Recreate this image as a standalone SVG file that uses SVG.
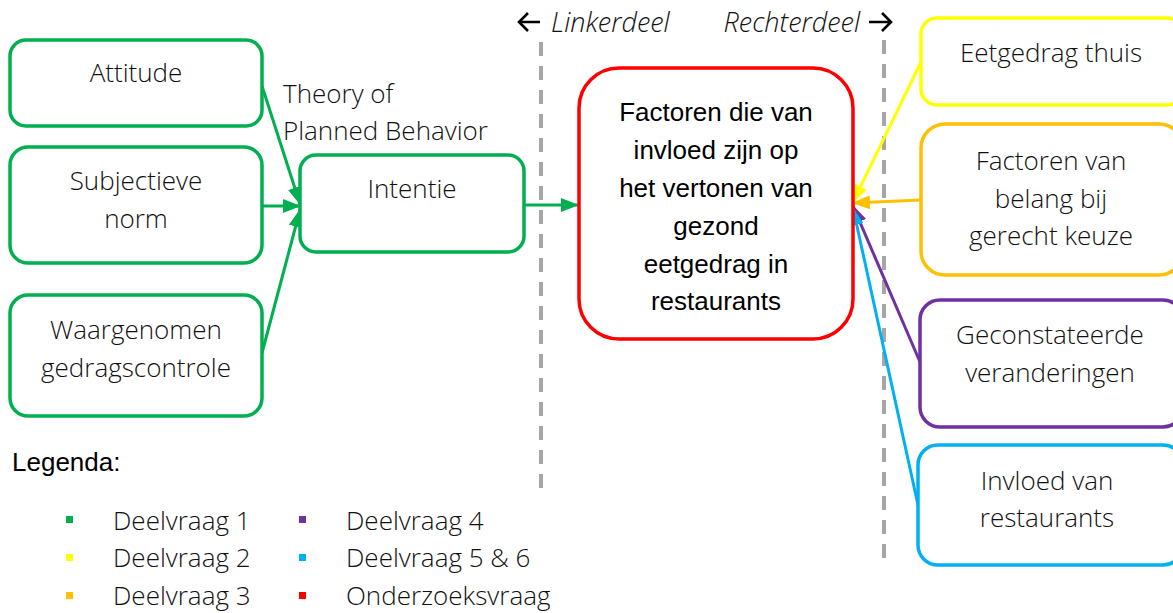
<svg xmlns="http://www.w3.org/2000/svg" width="1173" height="613" viewBox="0 0 1173 613">
  <style>
    .box { fill: #fff; stroke-width: 3.5; }
    .lbl { font-family: "Open Sans", "Noto Sans", sans-serif; font-weight: 300; font-size: 26px; fill: #111; text-anchor: middle; }
    .lbl-l { font-family: "Open Sans", "Noto Sans", sans-serif; font-weight: 300; font-size: 26px; fill: #111; }
    .main { font-family: "Liberation Sans", Arial, sans-serif; font-size: 26px; fill: #000; text-anchor: middle; }
    .title { font-family: "Liberation Sans", Arial, sans-serif; font-size: 26px; fill: #000; }
    .side { font-family: "Open Sans", "Noto Sans", sans-serif; font-style: italic; font-weight: 300; font-size: 27px; fill: #111; }
    .dash { stroke: #A6A6A6; stroke-width: 4; stroke-dasharray: 14 10; fill: none; }
    .edge { stroke-width: 3; fill: none; }
    .g { stroke: #00B050; }
    .y { stroke: #FFFF00; }
    .o { stroke: #FFC000; }
    .p { stroke: #7030A0; }
    .b { stroke: #00B0F0; }
    .r { stroke: #FF0000; }
    .dir { stroke: #000; stroke-width: 2.6; fill: none; }
  </style>
  <defs>
    <marker id="ah-g" markerUnits="userSpaceOnUse" markerWidth="18" markerHeight="14" refX="17" refY="7" orient="auto"><path d="M0,0 L18,7 L0,14 Z" fill="#00B050"/></marker>
    <marker id="ah-y" markerUnits="userSpaceOnUse" markerWidth="18" markerHeight="14" refX="17" refY="7" orient="auto"><path d="M0,0 L18,7 L0,14 Z" fill="#FFFF00"/></marker>
    <marker id="ah-o" markerUnits="userSpaceOnUse" markerWidth="18" markerHeight="14" refX="17" refY="7" orient="auto"><path d="M0,0 L18,7 L0,14 Z" fill="#FFC000"/></marker>
    <marker id="ah-p" markerUnits="userSpaceOnUse" markerWidth="18" markerHeight="14" refX="17" refY="7" orient="auto"><path d="M0,0 L18,7 L0,14 Z" fill="#7030A0"/></marker>
    <marker id="ah-b" markerUnits="userSpaceOnUse" markerWidth="18" markerHeight="14" refX="17" refY="7" orient="auto"><path d="M0,0 L18,7 L0,14 Z" fill="#00B0F0"/></marker>
  </defs>

  <rect width="1173" height="613" fill="#fff"/>

  <!-- section dividers -->
  <line class="dash" x1="541" y1="42" x2="541" y2="494"/>
  <line class="dash" x1="884" y1="40" x2="884" y2="566"/>
  <text class="side" x="551" y="32">Linkerdeel</text>
  <path class="dir" d="M540,22 L519,22 M528,13 L519,22 L528,31"/>
  <text class="side" x="860" y="32" text-anchor="end">Rechterdeel</text>
  <path class="dir" d="M869,22 L891,22 M882,13 L891,22 L882,31"/>

  <text class="lbl-l" x="283" y="103">Theory of</text>
  <text class="lbl-l" x="283" y="140">Planned Behavior</text>

  <!-- connectors -->
  <g id="connectors">
    <line class="edge g" x1="262" y1="86" x2="300" y2="204" marker-end="url(#ah-g)"/>
    <line class="edge g" x1="262" y1="206" x2="300" y2="206" marker-end="url(#ah-g)"/>
    <line class="edge g" x1="262" y1="353" x2="300" y2="210" marker-end="url(#ah-g)"/>
    <line class="edge g" x1="524" y1="205" x2="578" y2="205" marker-end="url(#ah-g)"/>
    <line class="edge y" x1="921" y1="62" x2="853" y2="202" marker-end="url(#ah-y)"/>
    <line class="edge o" x1="921" y1="200" x2="853" y2="203" marker-end="url(#ah-o)"/>
    <line class="edge p" x1="920" y1="362" x2="853" y2="206" marker-end="url(#ah-p)"/>
    <line class="edge b" x1="918" y1="505" x2="853" y2="208" marker-end="url(#ah-b)"/>
  </g>

  <!-- left-hand nodes -->
  <g id="attitude">
    <rect class="box g" x="10" y="40" width="252" height="86" rx="16"/>
    <text class="lbl" x="136" y="82">Attitude</text>
  </g>
  <g id="subjectieve-norm">
    <rect class="box g" x="10" y="147" width="252" height="116" rx="18"/>
    <text class="lbl" x="136" y="190">Subjectieve</text>
    <text class="lbl" x="136" y="228">norm</text>
  </g>
  <g id="gedragscontrole">
    <rect class="box g" x="10" y="295" width="252" height="121" rx="18"/>
    <text class="lbl" x="136" y="339">Waargenomen</text>
    <text class="lbl" x="136" y="377">gedragscontrole</text>
  </g>
  <g id="intentie">
    <rect class="box g" x="300" y="155" width="224" height="97" rx="16"/>
    <text class="lbl" x="412" y="198">Intentie</text>
  </g>

  <!-- central research question -->
  <g id="onderzoeksvraag">
    <rect class="box r" x="579" y="68" width="274" height="271" rx="40"/>
    <text class="main" x="716" y="121">Factoren die van</text>
    <text class="main" x="716" y="159">invloed zijn op</text>
    <text class="main" x="716" y="197">het vertonen van</text>
    <text class="main" x="716" y="235">gezond</text>
    <text class="main" x="716" y="273">eetgedrag in</text>
    <text class="main" x="716" y="310">restaurants</text>
  </g>

  <!-- right-hand nodes -->
  <g id="eetgedrag-thuis">
    <rect class="box y" x="921" y="18" width="262" height="87" rx="16"/>
    <text class="lbl" x="1051" y="62">Eetgedrag thuis</text>
  </g>
  <g id="factoren-van-belang">
    <rect class="box o" x="921" y="124" width="262" height="151" rx="24"/>
    <text class="lbl" x="1051" y="170">Factoren van</text>
    <text class="lbl" x="1051" y="208">belang bij</text>
    <text class="lbl" x="1051" y="245">gerecht keuze</text>
  </g>
  <g id="veranderingen">
    <rect class="box p" x="920" y="300" width="263" height="127" rx="20"/>
    <text class="lbl" x="1050" y="344">Geconstateerde</text>
    <text class="lbl" x="1050" y="382">veranderingen</text>
  </g>
  <g id="invloed-restaurants">
    <rect class="box b" x="918" y="445" width="265" height="120" rx="20"/>
    <text class="lbl" x="1047" y="490">Invloed van</text>
    <text class="lbl" x="1047" y="527">restaurants</text>
  </g>

  <!-- legend -->
  <g id="legenda">
    <text class="title" x="12" y="471">Legenda:</text>
    <rect x="66" y="516" width="7" height="7" fill="#00B050"/>
    <rect x="66" y="554" width="7" height="7" fill="#FFFF00"/>
    <rect x="66" y="592" width="7" height="7" fill="#FFC000"/>
    <rect x="299" y="516" width="7" height="7" fill="#7030A0"/>
    <rect x="299" y="554" width="7" height="7" fill="#00B0F0"/>
    <rect x="299" y="592" width="7" height="7" fill="#FF0000"/>
    <text class="lbl-l" x="113" y="530">Deelvraag 1</text>
    <text class="lbl-l" x="113" y="567">Deelvraag 2</text>
    <text class="lbl-l" x="113" y="605">Deelvraag 3</text>
    <text class="lbl-l" x="346" y="530">Deelvraag 4</text>
    <text class="lbl-l" x="346" y="567">Deelvraag 5 &amp; 6</text>
    <text class="lbl-l" x="346" y="605">Onderzoeksvraag</text>
  </g>
</svg>
